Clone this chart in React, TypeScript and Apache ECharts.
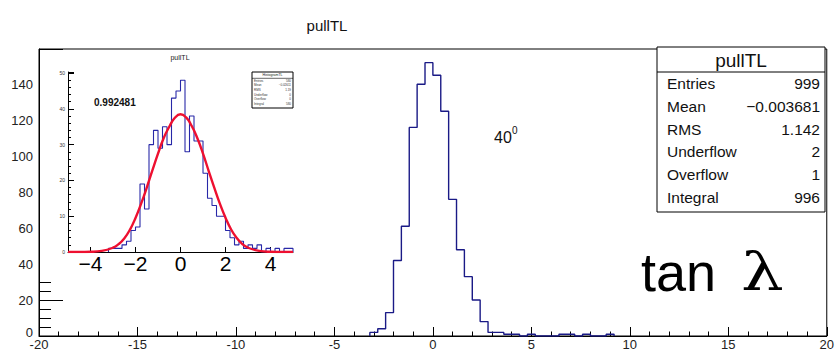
import React, { useEffect, useRef } from "react";
import * as echarts from "echarts";

// Main histogram: 100 bins of width 0.4 on [-20, 20]
const MAIN_LOW = -20;
const MAIN_BIN = 0.4;
const mainCounts = [
  0, 0, 0, 0, 0, 0, 0, 0, 0, 0, 0, 0, 0, 0, 0, 0, 0, 0, 0, 0,
  0, 0, 0, 0, 0, 0, 0, 0, 0, 0, 0, 0, 0, 0, 0, 0, 0, 0, 0, 0,
  0, 0, 2, 4, 13, 42, 61, 116, 140, 152, 145, 125, 76, 48, 33, 20, 8, 2, 2, 1,
  1, 0, 1, 0, 0, 0, 1, 1, 0, 1, 0, 0, 1, 0, 0, 0, 0, 0, 0, 0,
  0, 0, 0, 0, 0, 0, 0, 0, 0, 0, 0, 0, 0, 0, 0, 0, 0, 0, 0, 0,
];
const mainXTicks = [-20, -15, -10, -5, 0, 5, 10, 15, 20];
const mainYMax = 159.6;

// Inset histogram: 50 bins of width 0.2 on [-5, 5]
const INSET_LOW = -5;
const INSET_BIN = 0.2;
const insetCounts = [
  0, 0, 0, 0, 0, 0, 0, 0, 0, 1, 1, 1, 2, 3, 6, 7, 19, 12, 30, 34, 29, 35, 30, 43, 45,
  48, 28, 38, 31, 31, 22, 15, 13, 10, 10, 6, 4, 2, 3, 1, 2, 1, 2, 0, 1, 0, 1, 0, 1, 1,
];
const insetXLabels = [-4, -2, 0, 2, 4];
const insetYMax = 50.3;

// Gaussian fit curve drawn over the inset
const fitX = [-5, -4.5, -4, -3.5, -3, -2.75, -2.5, -2.25, -2, -1.75, -1.5, -1.25, -1, -0.75, -0.5, -0.25, 0,
  0.25, 0.5, 0.75, 1, 1.25, 1.5, 1.75, 2, 2.25, 2.5, 2.75, 3, 3.5, 4, 4.5, 5];
const fitY = [0, 0, 0.05, 0.3, 1.2, 2.2, 3.8, 6.2, 9.5, 13.5, 18, 22.8, 27.5, 31.8, 35, 37.5, 38.5,
  37.6, 35.2, 31.8, 27.5, 22.7, 18, 13.5, 9.6, 6.3, 3.9, 2.2, 1.2, 0.3, 0.05, 0, 0];
const fitProbability = "0.992481";

// Statistics boxes
const histName = "pullTL";
const statsLabels = ["Entries", "Mean", "RMS", "Underflow", "Overflow", "Integral"];
const statsValues = ["999", "\u22120.003681", "1.142", "2", "1", "996"];
const insetStatsTitle = "HistogramTL";
const insetStatsValues = ["580", "\u22120.02611", "1.19", "0", "0", "580"];

const angleText = "40";
const angleSup = "0";

const FONT = "'Liberation Sans', Arial, Helvetica, sans-serif";

function stepPoints(low: number, width: number, counts: number[]) {
  let first = counts.findIndex((c) => c > 0);
  let last = counts.length - 1;
  while (last > 0 && counts[last] === 0) last--;
  if (first < 0) first = 0;
  const pts: number[][] = [[low + first * width, 0]];
  for (let k = first; k <= last; k++) pts.push([low + k * width, counts[k]]);
  pts.push([low + (last + 1) * width, counts[last]]);
  pts.push([low + (last + 1) * width, 0]);
  return pts;
}

const fmtMinus = (v: number) => (v < 0 ? "\u2212" + Math.abs(v) : String(v));

export default function App() {
  const ref = useRef<HTMLDivElement>(null);

  useEffect(() => {
    if (!ref.current) return;
    const chart = echarts.init(ref.current, undefined, { renderer: "svg" });

    const statsLeft = 657;
    const statsRight = 825;
    const statsTop = 47;
    const statsBottom = 212;
    const rowY0 = 83.5;
    const rowStep = 22.8;

    const insetBox = { x: 252, y: 72, w: 41, h: 36 };

    const graphics: any[] = [
      // inset pad
      { type: "rect", z: 50, shape: { x: 40, y: 50, width: 262, height: 228 }, style: { fill: "#fff" } },
      { type: "text", z: 64, x: 180, y: 57, style: { text: histName, font: `7px ${FONT}`, fill: "#222", align: "center", verticalAlign: "middle" } },
      { type: "text", z: 64, x: 94, y: 102, style: { text: fitProbability, font: `bold 10px ${FONT}`, fill: "#111", align: "left", verticalAlign: "middle" } },
      { type: "rect", z: 64, shape: { x: insetBox.x, y: insetBox.y, width: insetBox.w, height: insetBox.h }, style: { fill: "#fff", stroke: "#000", lineWidth: 1 } },
      { type: "line", z: 65, shape: { x1: insetBox.x, y1: 78.3, x2: insetBox.x + insetBox.w, y2: 78.3 }, style: { stroke: "#000", lineWidth: 0.6 } },
      { type: "text", z: 65, x: insetBox.x + insetBox.w / 2, y: 75.2, style: { text: insetStatsTitle, font: `3.5px ${FONT}`, fill: "#222", align: "center", verticalAlign: "middle" } },
      // main title
      { type: "text", z: 10, x: 327, y: 25, style: { text: histName, font: `15px ${FONT}`, fill: "#111", align: "center", verticalAlign: "middle" } },
      // main stats box
      { type: "rect", z: 50, shape: { x: statsLeft, y: statsTop, width: statsRight - statsLeft, height: statsBottom - statsTop }, style: { fill: "#fff", stroke: "#000", lineWidth: 1 } },
      { type: "line", z: 51, shape: { x1: statsLeft, y1: 72, x2: statsRight, y2: 72 }, style: { stroke: "#000", lineWidth: 1 } },
      { type: "text", z: 51, x: (statsLeft + statsRight) / 2, y: 60, style: { text: histName, font: `19px ${FONT}`, fill: "#111", align: "center", verticalAlign: "middle" } },
      // angle annotation
      { type: "text", z: 10, x: 494, y: 137.5, style: { text: angleText, font: `16px ${FONT}`, fill: "#111", align: "left", verticalAlign: "middle" } },
      { type: "text", z: 10, x: 512, y: 130, style: { text: angleSup, font: `10px ${FONT}`, fill: "#111", align: "left", verticalAlign: "middle" } },
      // tan lambda
      { type: "text", z: 10, x: 641, y: 272, style: { text: "tan", font: `54px ${FONT}`, fill: "#000", align: "left", verticalAlign: "middle" } },
      { type: "text", z: 10, x: 741, y: 272, scaleX: 1.3, originX: 0, originY: 0, style: { text: "\u03bb", font: `52px 'DejaVu Serif', serif`, fill: "#000", align: "left", verticalAlign: "middle" } },
    ];

    statsLabels.forEach((label, i) => {
      const y = rowY0 + i * rowStep;
      graphics.push({ type: "text", z: 51, x: 667, y, style: { text: label, font: `15.5px ${FONT}`, fill: "#111", align: "left", verticalAlign: "middle" } });
      graphics.push({ type: "text", z: 51, x: 820, y, style: { text: statsValues[i], font: `15.5px ${FONT}`, fill: "#111", align: "right", verticalAlign: "middle" } });
      const iy = 80.5 + i * 4.6;
      graphics.push({ type: "text", z: 65, x: insetBox.x + 2, y: iy, style: { text: label, font: `3px ${FONT}`, fill: "#333", align: "left", verticalAlign: "middle" } });
      graphics.push({ type: "text", z: 65, x: insetBox.x + insetBox.w - 2, y: iy, style: { text: insetStatsValues[i], font: `3px ${FONT}`, fill: "#333", align: "right", verticalAlign: "middle" } });
    });

    chart.setOption({
      animation: false,
      backgroundColor: "#fff",
      grid: [
        { left: 39, top: 49, width: 789, height: 288, show: true, borderColor: "#000", borderWidth: 1, backgroundColor: "transparent", z: 0 },
        { left: 68, top: 72, width: 225, height: 180, show: false, z: 60 },
      ],
      xAxis: [
        {
          gridIndex: 0, type: "value", min: -20, max: 20, interval: 5, z: 1,
          axisLine: { onZero: false, lineStyle: { color: "#000", width: 1 } },
          axisTick: { inside: true, length: 9, lineStyle: { color: "#000" }, customValues: mainXTicks },
          minorTick: { show: true, splitNumber: 5, length: 4.5, lineStyle: { color: "#000" } },
          splitLine: { show: false },
          axisLabel: { fontSize: 13, color: "#222", margin: 2, fontFamily: FONT, customValues: mainXTicks },
        },
        {
          gridIndex: 1, type: "value", min: -5, max: 5, interval: 1, z: 60,
          axisLine: { onZero: false, lineStyle: { color: "#000", width: 1 } },
          axisTick: { inside: true, length: 5, lineStyle: { color: "#000" }, customValues: insetXLabels },
          minorTick: { show: false },
          splitLine: { show: false },
          axisLabel: { fontSize: 21, color: "#000", margin: 1, fontFamily: FONT, customValues: insetXLabels, formatter: fmtMinus },
        },
      ],
      yAxis: [
        {
          gridIndex: 0, type: "value", min: 0, max: mainYMax, interval: 20, z: 1,
          axisLine: { show: true, onZero: false, lineStyle: { color: "#000", width: 1 } },
          axisTick: { show: true, inside: true, length: 24, lineStyle: { color: "#000" } },
          minorTick: { show: true, splitNumber: 4, length: 12, lineStyle: { color: "#000" } },
          splitLine: { show: false },
          axisLabel: {
            fontSize: 13, color: "#222", margin: 6, fontFamily: FONT, showMaxLabel: false,
            formatter: (v: number) => (v === 0 ? "{zero|0}" : v % 20 === 0 ? String(v) : ""),
            rich: { zero: { fontSize: 13, color: "#222", fontFamily: FONT, padding: [0, 0, 7, 0] } },
          },
        },
        {
          gridIndex: 1, type: "value", min: 0, max: insetYMax, interval: 10, z: 60,
          axisLine: { show: true, onZero: false, lineStyle: { color: "#000", width: 1 } },
          axisTick: { show: true, inside: true, length: 6, lineStyle: { color: "#000" } },
          minorTick: { show: true, splitNumber: 5, length: 3, lineStyle: { color: "#000" } },
          splitLine: { show: false },
          axisLabel: {
            fontSize: 5, color: "#333", margin: 3, fontFamily: FONT, showMaxLabel: false,
            formatter: (v: number) => (v % 10 === 0 ? String(v) : ""),
          },
        },
      ],
      series: [
        {
          type: "line", xAxisIndex: 0, yAxisIndex: 0, step: "end", showSymbol: false, z: 3,
          data: stepPoints(MAIN_LOW, MAIN_BIN, mainCounts),
          lineStyle: { color: "#1a1a86", width: 1.4 },
        },
        {
          type: "line", xAxisIndex: 1, yAxisIndex: 1, step: "end", showSymbol: false, z: 62,
          data: stepPoints(INSET_LOW, INSET_BIN, insetCounts),
          lineStyle: { color: "#2828a8", width: 1.1 },
        },
        {
          type: "line", xAxisIndex: 1, yAxisIndex: 1, smooth: true, showSymbol: false, z: 63,
          data: fitX.map((x, i) => [x, fitY[i]]),
          lineStyle: { color: "#ee1030", width: 2.4 },
        },
      ],
      graphic: { elements: graphics },
    });

    return () => chart.dispose();
  }, []);

  return (
    <div
      ref={ref}
      style={{ position: "fixed", left: 0, top: 0, width: 837, height: 351, background: "#fff" }}
    />
  );
}
